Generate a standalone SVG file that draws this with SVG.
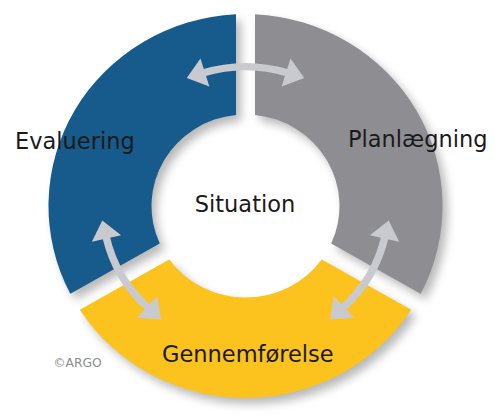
<svg xmlns="http://www.w3.org/2000/svg" xmlns:xlink="http://www.w3.org/1999/xlink" width="494" height="419" viewBox="0 0 494 419">
<style>
.lbl{font-family:"DejaVu Sans","Verdana",sans-serif;font-size:22.5px;fill:#1a1a1a}
.copy{font-family:"DejaVu Sans",sans-serif;font-size:12.3px;fill:#8c8c8c}
.arr{fill:none;stroke:#c9cacf;stroke-width:7.5;marker-start:url(#head);marker-end:url(#head)}
</style>
<defs>
<filter id="shadow" x="-20%" y="-20%" width="140%" height="140%">
<feGaussianBlur in="SourceAlpha" stdDeviation="5"/>
<feOffset dx="5" dy="6"/>
<feComponentTransfer><feFuncA type="linear" slope="0.28"/></feComponentTransfer>
</filter>
<marker id="head" markerUnits="userSpaceOnUse" markerWidth="22" markerHeight="32" refX="2" refY="16" orient="auto-start-reverse" overflow="visible">
<path d="M0,1 L19,16 L0,31 Z" fill="#c9cacf"/>
</marker>
<path id="p-blue" d="M-9.5,-196.77 A197,197 0 0 0 -175.16,90.16 L-85.74,38.53 A94,94 0 0 1 -9.5,-93.52 Z"/>
<path id="p-gray" d="M9.5,-196.77 A197,197 0 0 1 175.16,90.16 L85.74,38.53 A94,94 0 0 0 9.5,-93.52 Z"/>
<path id="p-yellow" d="M165.66,106.61 A197,197 0 0 1 -165.66,106.61 L-76.24,54.99 A94,94 0 0 0 76.24,54.99 Z"/>
</defs>
<rect width="494" height="419" fill="#ffffff"/>
<g transform="translate(245.5,206) scale(1,0.974)" filter="url(#shadow)">
<use xlink:href="#p-blue"/><use xlink:href="#p-gray"/><use xlink:href="#p-yellow"/>
</g>
<g id="evaluering">
<use xlink:href="#p-blue" transform="translate(245.5,206) scale(1,0.974)" fill="#165b8c"/>
<text class="lbl" x="15" y="148.5">Evaluering</text>
</g>
<g id="planlaegning">
<use xlink:href="#p-gray" transform="translate(245.5,206) scale(1,0.974)" fill="#8e8e92"/>
<text class="lbl" x="348" y="146.5">Planlægning</text>
</g>
<g id="gennemfoerelse">
<use xlink:href="#p-yellow" transform="translate(245.5,206) scale(1,0.974)" fill="#fcc21e"/>
<text class="lbl" x="162" y="361.5">Gennemførelse</text>
</g>
<g id="situation">
<text class="lbl" x="245" y="212" text-anchor="middle">Situation</text>
</g>
<g id="connectors" transform="translate(245.5,206) scale(1,0.974)">
<path class="arr" d="M-42.5,-136.5 A143,143 0 0 1 42.5,-136.5"/>
<path class="arr" transform="rotate(-120)" d="M-42.5,-136.5 A143,143 0 0 1 42.5,-136.5"/>
<path class="arr" transform="rotate(120)" d="M-42.5,-136.5 A143,143 0 0 1 42.5,-136.5"/>
</g>
<text class="copy" x="53.3" y="367.3">©ARGO</text>
</svg>
